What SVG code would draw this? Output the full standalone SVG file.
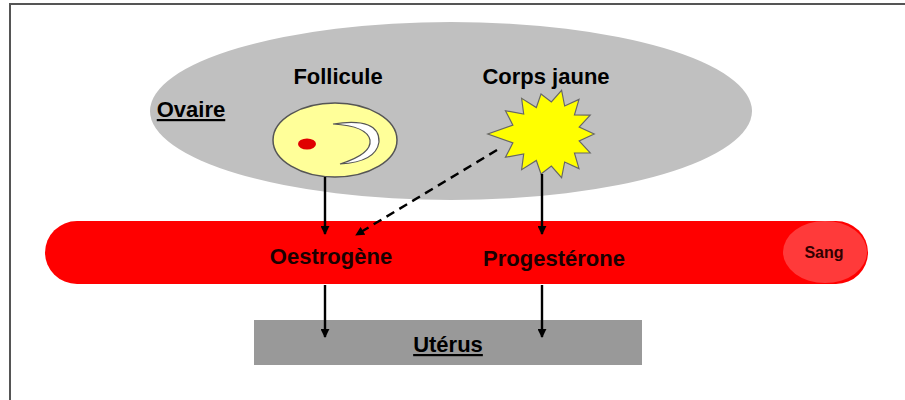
<svg xmlns="http://www.w3.org/2000/svg" width="905" height="400" viewBox="0 0 905 400">
  <defs>
    <marker id="arrow" viewBox="0 0 10 10" refX="9" refY="5" markerWidth="9" markerHeight="9" markerUnits="userSpaceOnUse" orient="auto">
      <path d="M0,0 L10,5 L0,10 z" fill="#000"/>
    </marker>
    <style>
      .lbl { font-family: "Liberation Sans", Arial, sans-serif; font-weight: bold; fill: #000; text-anchor: middle; font-size: 22px; }
      .hormone { fill: #1a0000; }
      .small { font-size: 16px; fill: #330000; }
      .link { stroke: #000; stroke-width: 2.4; fill: none; marker-end: url(#arrow); }
      .dash { stroke-dasharray: 9 6; }
    </style>
  </defs>

  <rect width="905" height="400" fill="#fff"/>
  <!-- frame -->
  <path d="M10,400 V4 H905" fill="none" stroke="#555" stroke-width="2"/>

  <g id="ovaire">
    <ellipse cx="451" cy="111" rx="301" ry="89" fill="#c0c0c0"/>
    <text class="lbl" x="191" y="117" text-decoration="underline">Ovaire</text>
  </g>

  <g id="follicule">
    <text class="lbl" x="338" y="84">Follicule</text>
    <ellipse cx="335" cy="140" rx="62" ry="37" fill="#ffff99" stroke="#555" stroke-width="1.5"/>
    <ellipse cx="307" cy="144" rx="9" ry="5.5" fill="#e00000"/>
    <path d="M333,124 Q380,117 379,142 Q376,162 340,164 Q372,154 370,140 Q367,126 333,124 z" fill="#fff" stroke="#555" stroke-width="1.2"/>
  </g>

  <g id="corps-jaune">
    <text class="lbl" x="546" y="84">Corps jaune</text>
    <polygon fill="#ffff00" stroke="#666" stroke-width="1.2" transform="translate(541,134) scale(0.95,1) translate(-541,-134)" points="597.0,134.0 581.2,141.0 592.8,152.9 576.2,153.0 581.0,168.6 565.9,162.0 562.7,177.7 551.9,166.0 541.0,174.0 536.1,160.5 520.6,169.7 522.8,153.9 503.6,157.3 511.4,142.9 485.0,134.0 511.4,125.1 503.6,110.7 522.8,114.1 520.6,98.3 536.1,107.5 541.0,94.0 551.9,102.0 562.7,90.3 565.9,106.0 581.0,99.4 576.2,115.0 592.8,115.1 581.2,127.0"/>
  </g>

  <g id="sang">
    <rect x="45" y="221" width="823" height="63" rx="32" ry="31.5" fill="#ff0000"/>
    <ellipse cx="825" cy="252" rx="42" ry="31" fill="#ff3a3a"/>
    <text class="lbl small" x="824" y="258">Sang</text>
    <text class="lbl hormone" x="331" y="264">Oestrogène</text>
    <text class="lbl hormone" x="554" y="266">Progestérone</text>
  </g>

  <g id="uterus">
    <rect x="254" y="320" width="388" height="45" fill="#999999"/>
    <text class="lbl" x="448" y="352" text-decoration="underline">Utérus</text>
  </g>

  <g id="connectors">
    <line class="link" x1="325" y1="177" x2="325" y2="234"/>
    <line class="link" x1="542" y1="174" x2="542" y2="234"/>
    <line class="link dash" x1="497" y1="150" x2="356" y2="235"/>
    <line class="link" x1="325" y1="285" x2="325" y2="337"/>
    <line class="link" x1="542" y1="285" x2="542" y2="337"/>
  </g>
</svg>
